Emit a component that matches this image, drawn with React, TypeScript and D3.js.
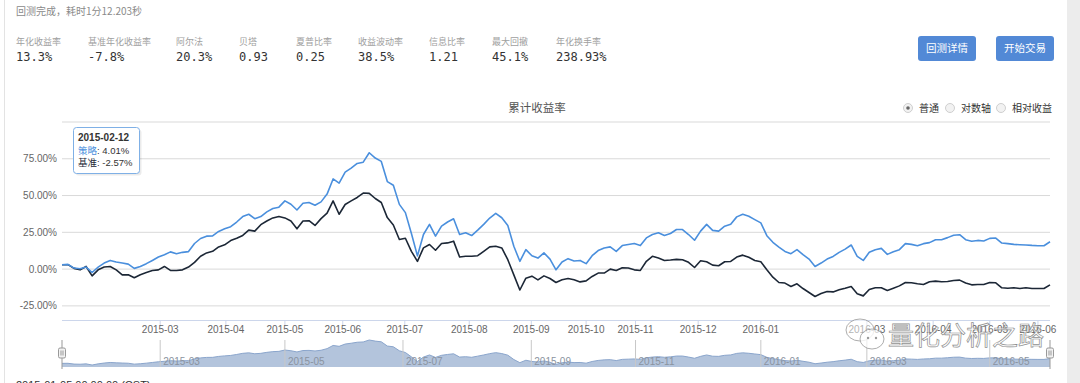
import React from 'react';
import * as d3 from 'd3';

// ---- data (cumulative returns, %) sampled uniformly across the trading-day axis ----
const strategy = [
  3.0, 3.2, 0.7, 0.2, 1.4, -2.3, 1.4, 4.1, 5.9, 4.8,
  4.1, 3.4, 0.5, 1.8, 3.7, 5.9, 8.2, 9.8, 11.7, 10.5,
  11.4, 11.9, 17.4, 20.8, 22.4, 22.6, 25.6, 27.4, 28.8, 32.0,
  35.7, 37.3, 34.3, 35.7, 38.9, 41.2, 42.1, 46.4, 44.1, 40.2,
  44.8, 45.3, 43.4, 45.7, 51.0, 61.3, 58.5, 65.9, 68.6, 71.8,
  72.7, 79.1, 75.5, 73.2, 59.5, 57.0, 44.0, 38.4, 24.2, 9.0,
  23.5, 30.4, 22.4, 29.2, 32.0, 34.2, 23.5, 24.7, 22.8, 26.5,
  30.4, 34.7, 37.9, 34.9, 29.7, 15.5, 5.3, 13.2, 9.1, 7.5,
  11.0, 6.8, -0.5, 4.8, 7.1, 5.5, 5.9, 3.7, 9.1, 12.6,
  14.4, 15.1, 12.1, 16.0, 16.7, 17.4, 16.0, 21.2, 23.5, 24.7,
  22.8, 24.2, 26.9, 26.9, 23.5, 19.6, 25.8, 30.4, 26.3, 25.8,
  29.2, 30.5, 35.5, 37.3, 35.9, 33.6, 31.4, 22.7, 18.2, 15.0,
  12.0, 10.5, 13.2, 9.8, 6.8, 1.8, 4.1, 6.8, 8.6, 11.4,
  13.6, 16.4, 8.6, 5.9, 11.4, 13.2, 14.1, 10.0, 11.8, 13.2,
  17.3, 16.8, 15.9, 17.3, 18.0, 20.0, 20.0, 21.4, 23.0, 23.4,
  20.0, 18.9, 19.5, 19.1, 20.9, 21.1, 17.7, 17.3, 16.8, 16.6,
  16.4, 16.1, 15.9, 15.9, 18.6,
];
const benchmark = [
  3.0, 3.0, 0.5, -0.5, 1.8, -4.6, -0.5, 1.4, 1.8, -0.5,
  -3.9, -3.9, -5.9, -3.9, -2.3, -0.9, -0.5, 1.8, -0.9, -0.9,
  -0.5, 1.4, 4.6, 8.7, 11.0, 12.1, 15.1, 16.5, 19.4, 21.0,
  22.9, 26.5, 25.8, 30.2, 32.7, 34.8, 35.7, 34.8, 32.7, 27.4,
  32.7, 32.9, 29.7, 34.3, 38.0, 46.4, 37.3, 43.9, 46.4, 48.7,
  51.7, 51.5, 48.0, 45.3, 35.0, 30.0, 20.1, 21.0, 12.1, 5.3,
  14.4, 16.7, 12.8, 17.4, 17.8, 19.0, 8.2, 8.7, 8.7, 9.1,
  12.1, 15.1, 15.5, 14.4, 6.4, -3.9, -14.2, -6.2, -4.8, -7.3,
  -4.6, -6.4, -9.1, -7.3, -6.4, -7.3, -8.7, -8.0, -5.0, -2.7,
  -2.7, 0.0, -0.9, 0.9, 0.7, -0.5, -0.9, 5.3, 8.7, 7.5,
  5.9, 6.2, 6.6, 6.4, 4.6, 1.1, 5.7, 5.0, 2.7, 2.3,
  5.0, 5.2, 8.2, 9.5, 8.0, 5.9, 5.0, -0.5, -5.5, -9.1,
  -9.5, -11.8, -10.0, -13.2, -15.9, -18.6, -16.6, -15.2, -15.5, -14.1,
  -13.0, -11.8, -16.8, -18.2, -13.9, -12.7, -12.7, -14.5, -13.0, -11.4,
  -9.1, -9.3, -10.0, -10.5, -8.6, -8.2, -8.6, -8.4, -7.7, -7.5,
  -9.5, -10.7, -10.5, -10.5, -9.1, -9.3, -12.7, -13.0, -12.7, -13.2,
  -12.7, -13.2, -13.2, -13.2, -10.7,
];

const xTickLabels = ['2015-03', '2015-04', '2015-05', '2015-06', '2015-07', '2015-08', '2015-09', '2015-10', '2015-11', '2015-12', '2016-01', '2016-03', '2016-04', '2016-05', '2016-06'];
const xTickIdx = [16.3, 27.2, 37.0, 46.6, 56.9, 67.6, 77.9, 87.0, 95.2, 105.6, 116.0, 133.6, 144.6, 154.0, 162.0];
const navTickLabels = ['2015-03', '2015-05', '2015-07', '2015-09', '2015-11', '2016-01', '2016-03', '2016-05'];
const navTickIdx = [16.3, 37.0, 56.6, 77.9, 95.2, 116.0, 133.6, 154.0];
const yTicks = [100, 75, 50, 25, 0, -25];

const metricNames = ['年化收益率', '基准年化收益率', '阿尔法', '贝塔', '夏普比率', '收益波动率', '信息比率', '最大回撤', '年化换手率'];
const metricValues = ['13.3%', '-7.8%', '20.3%', '0.93', '0.25', '38.5%', '1.21', '45.1%', '238.93%'];
const radioLabels = ['普通', '对数轴', '相对收益'];
const buttonLabels = ['回测详情', '开始交易'];

const tipDate = '2015-02-12';
const tipStrategy = '4.01%';
const tipBenchmark = '-2.57%';

// ---- layout ----
const metricX = [16, 88, 176, 239, 296, 358, 429, 492, 556];
const radioX = [908, 950, 1001];
const buttonX = [918, 996];

const CJK = '"Noto Sans CJK SC", "Noto Sans", sans-serif';
const SANS = '"Liberation Sans", Arial, sans-serif';
const MONO = '"DejaVu Sans Mono", monospace';

const BLUE = '#4a8fdd';
const DARK = '#1c2736';

export default function App() {
  const W = 1080;
  const H = 383;
  const left = 62;
  const right = 1050;
  const x = d3.scaleLinear().domain([0, strategy.length - 1]).range([left, right]);
  const y = d3.scaleLinear().domain([-34.6, 100]).range([320, 122]);
  const line = d3.line<number>().x((_, i) => x(i)).y((d) => y(d));

  const navTop = 340;
  const navBottom = 367;
  const navY = d3
    .scaleLinear()
    .domain([d3.min(strategy) as number, d3.max(strategy) as number])
    .range([365, navTop]);
  const navArea = d3
    .area<number>()
    .x((_, i) => x(i))
    .y0(navBottom)
    .y1((d) => navY(d));
  const navLine = d3
    .line<number>()
    .x((_, i) => x(i))
    .y((d) => navY(d));

  const fmt = (v: number) => `${v.toFixed(2)}%`;

  return (
    <svg
      width={W}
      height={H}
      style={{ position: 'absolute', left: 0, top: 0, background: '#fff' }}
    >
      <rect x={0} y={0} width={W} height={H} fill="#fff" />
      {/* page frame */}
      <line x1={4.5} x2={4.5} y1={0} y2={H} stroke="#e3e3e3" />
      <rect x={1067} y={0} width={13} height={H} fill="#ececec" />

      {/* header */}
      <text x={16} y={15} fontFamily={CJK} fontSize={10} fill="#8a8a8a">
        回测完成，耗时1分12.203秒
      </text>
      {metricNames.map((n, i) => (
        <text key={n} x={metricX[i]} y={45} fontFamily={CJK} fontSize={9} fill="#a0a0a0">
          {n}
        </text>
      ))}
      {metricValues.map((v, i) => (
        <text key={i} x={metricX[i]} y={61} fontFamily={MONO} fontSize={12} fill="#333">
          {v}
        </text>
      ))}
      {buttonLabels.map((b, i) => (
        <g key={b}>
          <rect x={buttonX[i]} y={36} width={58} height={25} rx={3} fill="#5289d6" />
          <text
            x={buttonX[i] + 29}
            y={52}
            textAnchor="middle"
            fontFamily={CJK}
            fontSize={10.5}
            fill="#fff"
          >
            {b}
          </text>
        </g>
      ))}

      {/* chart title */}
      <text x={537} y={112} textAnchor="middle" fontFamily={CJK} fontSize={11.5} fill="#555">
        累计收益率
      </text>

      {/* radio legend */}
      {radioLabels.map((r, i) => (
        <g key={r}>
          <circle cx={radioX[i]} cy={108} r={4.5} fill="#f2f2f2" stroke="#c4c4c4" strokeWidth={0.8} />
          {i === 0 && <circle cx={radioX[i]} cy={108} r={1.8} fill="#666" />}
          <text x={radioX[i] + 11} y={111.5} fontFamily={CJK} fontSize={10} fill="#333">
            {r}
          </text>
        </g>
      ))}

      {/* grid */}
      {yTicks.map((t) => (
        <g key={t}>
          <line x1={left} x2={right} y1={y(t)} y2={y(t)} stroke="#d9d9d9" strokeWidth={1} />
          {t !== 100 && (
            <text
              x={57}
              y={y(t) + 3.5}
              textAnchor="end"
              fontFamily={SANS}
              fontSize={10}
              fill="#666"
            >
              {fmt(t)}
            </text>
          )}
        </g>
      ))}

      {/* x axis */}
      <line x1={left} x2={right} y1={320.5} y2={320.5} stroke="#ccd6eb" />
      {xTickIdx.map((t, i) => (
        <g key={i}>
          <line x1={x(t)} x2={x(t)} y1={320.5} y2={326} stroke="#ccd6eb" />
          <text
            x={x(t)}
            y={333}
            textAnchor="middle"
            fontFamily={SANS}
            fontSize={10}
            fill="#666"
          >
            {xTickLabels[i]}
          </text>
        </g>
      ))}

      {/* series */}
      <path d={line(benchmark) || ''} fill="none" stroke={DARK} strokeWidth={1.6} strokeLinejoin="round" />
      <path d={line(strategy) || ''} fill="none" stroke={BLUE} strokeWidth={1.6} strokeLinejoin="round" />

      {/* navigator */}
      <path d={navArea(strategy) || ''} fill="#b3c4dc" />
      <path d={navLine(strategy) || ''} fill="none" stroke="#8aa5cc" strokeWidth={1} />
      {navTickIdx.map((t, i) => (
        <g key={i}>
          <line x1={x(t)} x2={x(t)} y1={navTop} y2={navBottom} stroke="#c8c8c8" strokeWidth={1} />
          <text x={x(t) + 3} y={365} fontFamily={SANS} fontSize={10} fill="#8a93a0">
            {navTickLabels[i]}
          </text>
        </g>
      ))}
      <line x1={left} x2={left} y1={340} y2={369} stroke="#999" />
      <line x1={right} x2={right} y1={340} y2={369} stroke="#999" />
      {[left, right].map((hx, i) => (
        <g key={i}>
          <rect x={hx - 3.5} y={348} width={7} height={10} rx={1.5} fill="#f2f2f2" stroke="#999" />
          <line x1={hx - 1} x2={hx - 1} y1={350.5} y2={355.5} stroke="#999" />
          <line x1={hx + 1} x2={hx + 1} y1={350.5} y2={355.5} stroke="#999" />
        </g>
      ))}

      {/* footer (cut off) */}
      <text x={16} y={389} fontFamily={SANS} fontSize={11} fill="#333">
        2015-01-05 00:00:00 (CST)
      </text>

      {/* tooltip */}
      <g>
        <rect x={75.5} y={129.5} width={66} height={46} rx={3} fill="rgba(0,0,0,0.08)" />
        <rect x={73.5} y={127.5} width={66} height={46} rx={3} fill="#fff" stroke="#7fb0e6" strokeWidth={1} />
        <text x={78} y={141} fontFamily={SANS} fontSize={10} fontWeight="bold" fill="#333">
          {tipDate}
        </text>
        <text x={78} y={154} fontFamily={CJK} fontSize={9.5} fill="#333">
          <tspan fill={BLUE}>策略</tspan>
          <tspan fontFamily={SANS}>: {tipStrategy}</tspan>
        </text>
        <text x={78} y={166} fontFamily={CJK} fontSize={9.5} fill="#333">
          <tspan fill={DARK}>基准</tspan>
          <tspan fontFamily={SANS}>: {tipBenchmark}</tspan>
        </text>
      </g>

      {/* watermark */}
      <g opacity={0.85}>
        <ellipse cx={860} cy={330} rx={14} ry={11} fill="rgba(255,255,255,0.6)" stroke="#888" strokeWidth={0.8} />
        <ellipse cx={872} cy={339} rx={12} ry={10} fill="rgba(255,255,255,0.8)" stroke="#888" strokeWidth={0.8} />
        <circle cx={868} cy={338} r={1.2} fill="#888" />
        <circle cx={876} cy={338} r={1.2} fill="#888" />
        <text
          x={888}
          y={345}
          fontFamily={CJK}
          fontSize={26}
          fill="rgba(255,255,255,0.75)"
          stroke="#7a7a7a"
          strokeWidth={0.7}
        >
          量化分析之路
        </text>
      </g>
    </svg>
  );
}
